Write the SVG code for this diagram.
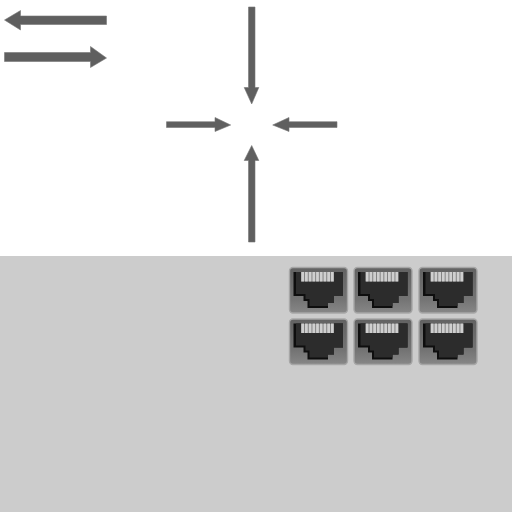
<svg xmlns="http://www.w3.org/2000/svg" width="512" height="512" viewBox="0 0 512 512">
<style>
.arrow{fill:#5f5f5f;stroke:#777;stroke-width:.6}
.frame{fill:url(#fr);stroke:#a6a6a6;stroke-width:1.4}
.jack{fill:#0e0e0e}
.well{fill:#2c2c2c}
.pinbed{fill:#7a7a7a}
.pin{fill:#cfcfcf}
</style>
<defs>
<linearGradient id="fr" x1="0" y1="0" x2="0" y2="1"><stop offset="0" stop-color="#626262"/><stop offset=".7" stop-color="#747474"/><stop offset="1" stop-color="#878787"/></linearGradient>
<g id="port">
<rect class="frame" x="0.500" y="0.500" width="58" height="45.500" rx="3.500"/>
<path class="jack" d="M4.500 5H54V29H45V36H39V41H18.500V34H14.500V29H4.500Z"/>
<path class="well" d="M7 5H54V29H45V36H39V39H20.500V32H16.500V27H7Z"/>
<rect class="pinbed" x="12" y="5" width="33" height="9.500"/>
<path class="pin" d="M12.300 5h2.800v9.500h-2.800zM16 5h2.800v9.500H16zM19.700 5h2.800v9.500h-2.800zM23.400 5h2.800v9.500h-2.800zM27.100 5h2.800v9.500h-2.800zM30.800 5h2.800v9.500h-2.800zM34.500 5h2.800v9.500h-2.800zM38.200 5h2.800v9.500h-2.800zM41.900 5h2.800v9.500h-2.800z"/>
</g>
</defs>
<rect width="512" height="512" fill="#fff"/>
<rect id="panel" x="0" y="256" width="512" height="256" fill="#ccc"/>
<g id="connectors">
<path class="arrow" d="M106.500 16H20.500V10.500L4.500 20 20.500 30V24.500H106.500Z"/>
<path class="arrow" d="M4.500 52.500H90.500V46.500L106.500 58 90.500 67.500V61.500H4.500Z"/>
<path class="arrow" d="M248.500 7H255V87.500H258.800L251.700 104 244.200 87.500H248.500Z"/>
<path class="arrow" d="M248.500 242H255V160.500H258.800L251.700 145.500 244.200 160.500H248.500Z"/>
<path class="arrow" d="M166.500 121.700H215V117.500L230.700 125 215 131.500V127.500H166.500Z"/>
<path class="arrow" d="M337 121.700H289V117.500L272.700 125 289 131.500V127.500H337Z"/>
</g>
<g id="ports">
<use id="port-1" href="#port" x="289" y="267"/>
<use id="port-2" href="#port" x="353.500" y="267"/>
<use id="port-3" href="#port" x="418.500" y="267"/>
<use id="port-4" href="#port" x="289" y="318.500"/>
<use id="port-5" href="#port" x="353.500" y="318.500"/>
<use id="port-6" href="#port" x="418.500" y="318.500"/>
</g>
</svg>
